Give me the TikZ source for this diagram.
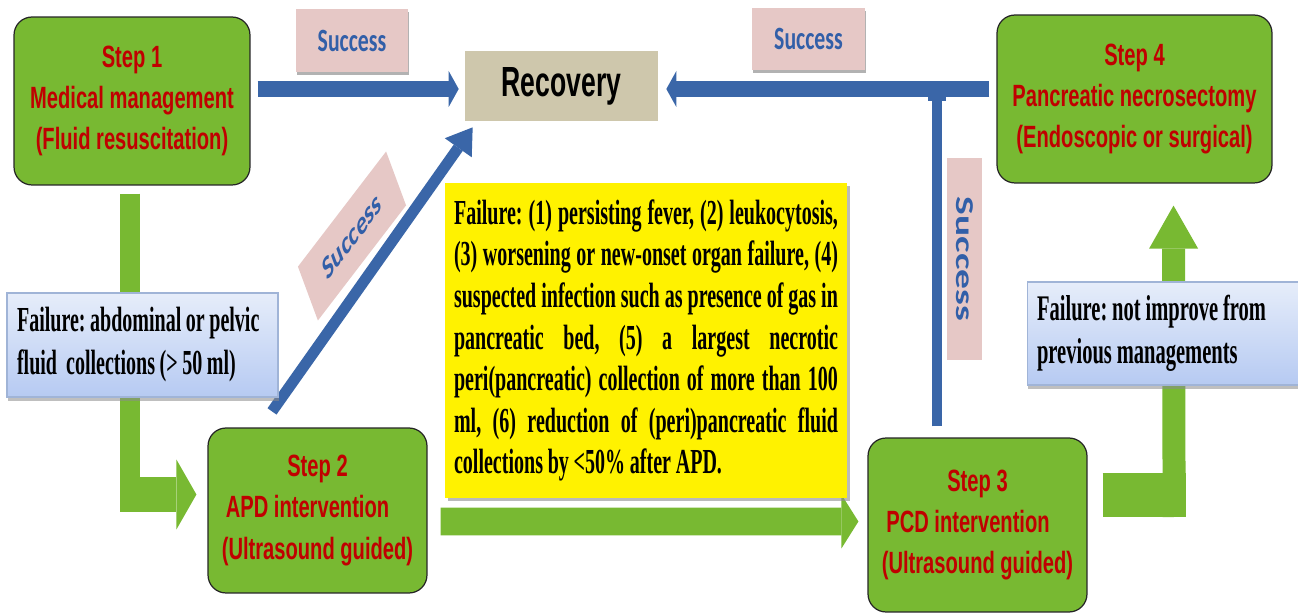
\documentclass[tikz,border=0pt]{standalone}
\usepackage{fontspec}
\usetikzlibrary{arrows.meta,calc,shadows}
\pgfdeclarelayer{back}
\pgfdeclarelayer{bg}
\pgfsetlayers{back,bg,main}
\newfontfamily\redfont[FakeStretch=0.655]{Liberation Sans}
\newfontfamily\recfont[FakeStretch=0.63]{Liberation Sans}
\newfontfamily\serifnarrow[FakeStretch=0.57, WordSpace=0.6]{Liberation Serif}
\newfontfamily\failfont[FakeStretch=0.57, WordSpace=0.95]{Liberation Serif}
\newfontfamily\sucfont[FakeStretch=0.67]{Carlito}
\newfontfamily\sucrot{Carlito}
\definecolor{stepgreen}{RGB}{120,185,50}
\definecolor{stepred}{RGB}{192,0,0}
\definecolor{arrowblue}{RGB}{58,102,168}
\definecolor{sucpink}{RGB}{230,200,198}
\definecolor{sucblue}{RGB}{50,95,168}
\definecolor{rectan}{RGB}{206,199,172}
\definecolor{failtop}{RGB}{230,237,250}
\definecolor{failbot}{RGB}{182,202,242}
\definecolor{failedge}{RGB}{160,180,215}
\begin{document}
\begin{tikzpicture}[x=0.02cm,y=-0.02cm,
  stepbox/.style={draw=black!85, line width=0.7pt, fill=stepgreen, rounded corners=0.36cm,
    text=stepred, font={\redfont\bfseries\fontsize{17.5}{23.5}\selectfont}, align=center, inner sep=0pt},
  recbox/.style={fill=rectan, inner sep=0pt, minimum width=3.86cm, minimum height=1.4cm,
    font={\recfont\bfseries\fontsize{24}{28}\selectfont}},
  sucbox/.style={fill=sucpink, text=sucblue, inner sep=0pt,
    font={\sucfont\bfseries\fontsize{18.5}{22}\selectfont},
    drop shadow={shadow xshift=0.6pt, shadow yshift=-1.6pt, fill=black!50, opacity=0.6}},
  sucrotbox/.style={fill=sucpink, text=sucblue, inner sep=0pt},
  yellowbox/.style={fill=yellow, inner sep=0pt, minimum width=8.04cm, minimum height=6.3cm, align=left,
    font={\serifnarrow\bfseries\fontsize{20}{23.7}\selectfont\frenchspacing},
    drop shadow={shadow xshift=1.8pt, shadow yshift=-1.8pt, fill=black!45, opacity=0.6}},
  failbox/.style={top color=failtop, bottom color=failbot, draw=failedge, line width=0.6pt,
    inner xsep=0.2cm, inner ysep=0pt, align=left,
    drop shadow={shadow xshift=0.5pt, shadow yshift=-2pt, fill=black!45, opacity=0.55}},
  bluearrow/.style={draw=arrowblue, line width=0.32cm,
    -{Triangle[length=0.2cm, width=0.72cm, line width=0pt]}},
  bluediag/.style={draw=arrowblue, line width=0.22cm,
    -{Triangle[length=0.5cm, width=0.66cm, line width=0pt]}},
  greenbar/.style={draw=stepgreen}
]
\begin{pgfonlayer}{back}
\fill[white] (0,0) rectangle (1298,614);
\end{pgfonlayer}
\useasboundingbox (0,0) rectangle (1298,614);

% step boxes
\node[stepbox, minimum width=4.72cm, minimum height=3.36cm] (s1) at (132,101)
  {Step 1\\Medical management\\(Fluid resuscitation)};
\node[stepbox, minimum width=4.38cm, minimum height=3.3cm] (s2) at (317.5,510.5)
  {Step 2\\APD intervention\rule{0.4cm}{0pt}\\(Ultrasound guided)};
\node[stepbox, minimum width=4.38cm, minimum height=3.48cm] (s3) at (977.5,525)
  {Step 3\\PCD intervention\rule{0.38cm}{0pt}\\(Ultrasound guided)};
\node[stepbox, minimum width=5.5cm, minimum height=3.36cm] (s4) at (1134.5,99)
  {Step 4\\Pancreatic necrosectomy\\(Endoscopic or surgical)};

% recovery
\node[recbox] (rec) at (561.5,86) {Recovery};

% success labels
\node[sucbox, minimum width=2.24cm, minimum height=1.26cm] (suc1) at (352,40.5) {Success};
\node[sucbox, minimum width=2.26cm, minimum height=1.24cm] (suc2) at (808.5,39) {Success};
\begin{scope}[shift={(964.5,259)}, xscale=0.65]
\node[sucrotbox, rotate=-90, transform shape, minimum width=4.04cm, minimum height=1.08cm,
  font={\sucrot\bfseries\fontsize{22.5}{26}\selectfont}] (suc3) {Success};
\end{scope}
\begin{scope}[cm={0.608,0.794,-0.347,0.937,(352,236)}]
\node[sucrotbox, transform shape, minimum width=2.9cm, minimum height=1.15cm,
  font={\sucrot\bfseries\fontsize{16.5}{19}\selectfont}] (suc4) {Success};
\end{scope}

% failure criteria
\node[yellowbox] (fy) at (646,340.5) {%
\makebox[7.68cm][s]{Failure: (1) persisting fever, (2) leukocytosis,}\\
\makebox[7.68cm][s]{(3) worsening or new-onset organ failure, (4)}\\
\makebox[7.68cm][s]{suspected infection such as presence of gas in}\\
\makebox[7.68cm][s]{pancreatic bed, (5) a largest necrotic}\\
\makebox[7.68cm][s]{peri(pancreatic) collection of more than 100}\\
\makebox[7.68cm][s]{ml, (6) reduction of (peri)pancreatic fluid}\\
collections by <50\% after APD.};

\node[failbox, text width=5.02cm, minimum height=2.08cm,
  font={\failfont\bfseries\fontsize{20}{24.5}\selectfont}] (f1) at (142.5,345)
  {\frenchspacing\spaceskip=0pt\xspaceskip=0pt
   \mbox{Failure: abdominal or pelvic}\\\mbox{fluid\ \ collections (> 50 ml)}};
\node[failbox, text width=5.06cm, minimum height=2.06cm,
  font={\failfont\bfseries\fontsize{20.5}{24.5}\selectfont}] (f2) at (1163.5,333.5)
  {\frenchspacing\spaceskip=0pt\xspaceskip=0pt
   \mbox{Failure: not improve from}\\\mbox{previous managements}};

% connectors
\begin{pgfonlayer}{bg}
\draw[bluearrow] ($(s1.east |- rec.west)+(7,3)$) -- ($(rec.west)+(-6,3)$);
\draw[bluearrow] ($(s4.west |- rec.east)+(-7,3)$) -- ($(rec.east)+(8,3)$);
\coordinate (v1) at ($(s3.north)+(-40.5,-11)$);
\coordinate (v2) at (v1 |- rec.east);
\draw[draw=arrowblue, line width=0.2cm] (v1) -- (v2);
\fill[arrowblue] ($(v2)+(-9,11)$) rectangle ($(v2)+(9,15)$);
\draw[bluediag] ($(s2.north)+(-45.5,-16)$) -- ($(rec.south west)+(8,6)$);

\coordinate (ga) at ($(s1.south)+(-2,8)$);
\draw[greenbar, line width=0.4cm] (ga) -- ($(ga |- s2.west)+(0,1.5)$);
\draw[greenbar, line width=0.7cm, -{Triangle[length=0.4cm, width=1.4cm, line width=0pt]}]
  ($(ga |- s2.west)+(-10,-16)$) -- ($(s2.west)+(-11,-16)$);
\draw[greenbar, line width=0.56cm, -{Triangle[length=0.34cm, width=1.08cm, line width=0pt]}]
  ($(s2.east)+(13,11)$) -- ($(s3.west)+(-9,-3.5)$);
\coordinate (gb) at ($(s3.east)+(15,-30)$);
\draw[greenbar, line width=0.88cm] (gb) -- ($(gb)+(83,0)$);
\draw[greenbar, line width=0.46cm, -{Triangle[length=0.86cm, width=0.98cm, line width=0pt]}]
  ($(gb)+(71.5,22)$) -- ($(s4.south)+(39,22)$);
\end{pgfonlayer}
\end{tikzpicture}
\end{document}
